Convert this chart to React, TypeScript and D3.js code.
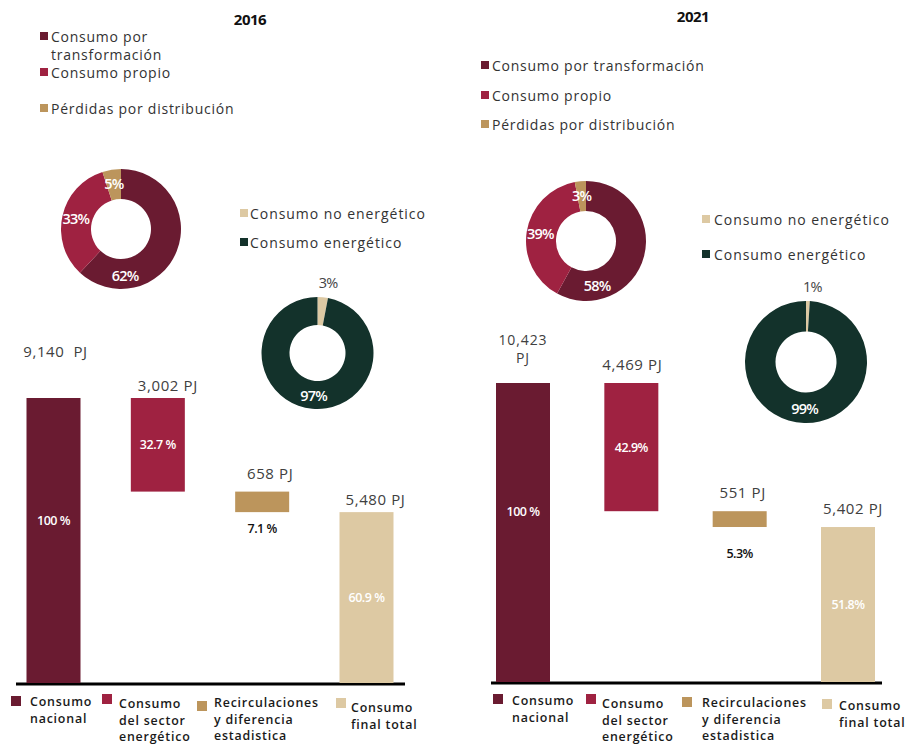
import React from "react";
import * as d3 from "d3";

const years = ["2016", "2021"];
const barCategories = [
  "Consumo nacional",
  "Consumo del sector energético",
  "Recirculaciones y diferencia estadistica",
  "Consumo final total",
];
const barLegendLines = [
  ["Consumo", "nacional"],
  ["Consumo", "del sector", "energético"],
  ["Recirculaciones", "y diferencia", "estadistica"],
  ["Consumo", "final total"],
];
const barValues2016 = [9140, 3002, 658, 5480];
const barValues2021 = [10423, 4469, 551, 5402];
const barValueLabels2016 = [["9,140  PJ"], ["3,002 PJ"], ["658 PJ"], ["5,480 PJ"]];
const barValueLabels2021 = [["10,423", "PJ"], ["4,469 PJ"], ["551 PJ"], ["5,402 PJ"]];
const barShareLabels2016 = ["100 %", "32.7 %", "7.1 %", "60.9 %"];
const barShareLabels2021 = ["100 %", "42.9%", "5.3%", "51.8%"];
const sectorCategories = ["Consumo por transformación", "Consumo propio", "Pérdidas por distribución"];
const sectorShares2016 = [62, 33, 5];
const sectorShares2021 = [58, 39, 3];
const useCategories = ["Consumo no energético", "Consumo energético"];
const useShares2016 = [3, 97];
const useShares2021 = [1, 99];

const BAR_COLORS = ["#6a1b31", "#9f2241", "#bc955c", "#ddc9a3"];
const SECTOR_COLORS = ["#6a1b31", "#9f2241", "#bc955c"];
const USE_COLORS = ["#ddc9a3", "#13322b"];
const FONT = "'Open Sans', 'DejaVu Sans', sans-serif";

type Layout = {
  title: [number, number];
  sectorLegend: { sqX: number; textX: number; rowsY: number[]; lines: string[][] };
  sectorDonut: { cx: number; cy: number; r: number; firstAngle: number };
  useLegend: { sqX: number; textX: number; rowsY: number[] };
  useDonut: { cx: number; cy: number; r: number };
  bars: { x0: number; x1: number; width: number; base: number; top: number; axis: [number, number]; valueDx: number[]; valueGap: number[]; shareBelow: number };
  barLegend: { sqX: number[]; sqY: number[]; textX: number[]; textY: number[] };
};

const layout2016: Layout = {
  title: [250, 19],
  sectorLegend: {
    sqX: 40,
    textX: 51,
    rowsY: [36, 72, 108],
    lines: [["Consumo por", "transformación"], [sectorCategories[1]], [sectorCategories[2]]],
  },
  sectorDonut: { cx: 121, cy: 229, r: 60, firstAngle: 175 },
  useLegend: { sqX: 240, textX: 250, rowsY: [213, 242] },
  useDonut: { cx: 317.5, cy: 353, r: 56 },
  bars: { x0: 53.5, x1: 366.5, width: 54, base: 683, top: 398, axis: [16, 405], valueDx: [2, 10, 8, 9], valueGap: [47, 13, 19, 13], shareBelow: 16 },
  barLegend: { sqX: [11, 102, 197, 336], sqY: [696, 694, 701, 698], textX: [30, 119, 214, 351], textY: [701, 703, 702, 707] },
};

const layout2021: Layout = {
  title: [693, 16],
  sectorLegend: {
    sqX: 481,
    textX: 492,
    rowsY: [65, 95, 124],
    lines: sectorCategories.map((c) => [c]),
  },
  sectorDonut: { cx: 586, cy: 241, r: 60, firstAngle: 166 },
  useLegend: { sqX: 702, textX: 714, rowsY: [219, 254] },
  useDonut: { cx: 806, cy: 362, r: 61 },
  bars: { x0: 523, x1: 848, width: 54, base: 682, top: 383, axis: [491, 882], valueDx: [0, 1, 3, 5], valueGap: [26, 19, 19, 19], shareBelow: 26 },
  barLegend: { sqX: [493, 586, 682, 822], sqY: [694, 694, 697, 699], textX: [512, 602, 702, 839], textY: [700, 703, 702, 705] },
};

function Panel(props: {
  year: string;
  values: number[];
  valueLabels: string[][];
  shareLabels: string[];
  sectorShares: number[];
  useShares: number[];
  L: Layout;
}) {
  const { year, values, valueLabels, shareLabels, sectorShares, useShares, L } = props;

  // waterfall ranges
  const ranges: [number, number][] = [];
  let running = values[0];
  values.forEach((v, i) => {
    if (i === 0) ranges.push([0, v]);
    else if (i === values.length - 1) ranges.push([0, v]);
    else {
      ranges.push([running - v, running]);
      running -= v;
    }
  });
  const y = d3.scaleLinear().domain([0, values[0]]).range([L.bars.base, L.bars.top]);
  const x = d3.scalePoint<string>().domain(barCategories).range([L.bars.x0, L.bars.x1]);

  const pie = d3.pie<number>().sort(null).value((d) => d).startAngle(0).endAngle(2 * Math.PI);
  const sArcs = pie(sectorShares);
  const sArc = d3.arc<d3.PieArcDatum<number>>().innerRadius(L.sectorDonut.r * 0.5).outerRadius(L.sectorDonut.r);
  const uArcs = pie(useShares);
  const uArc = d3.arc<d3.PieArcDatum<number>>().innerRadius(L.useDonut.r * 0.5).outerRadius(L.useDonut.r);

  const polar = (a: number, r: number): [number, number] => [Math.sin(a) * r, -Math.cos(a) * r];

  return (
    <g fontFamily={FONT}>
      <text x={L.title[0]} y={L.title[1]} textAnchor="middle" dominantBaseline="central" fontSize={15} fontWeight={700} fill="#111" letterSpacing={-0.5}>
        {year}
      </text>

      {/* sector legend */}
      {L.sectorLegend.lines.map((lines, i) => (
        <g key={"sl" + i}>
          <rect x={L.sectorLegend.sqX} y={L.sectorLegend.rowsY[i] - 4} width={8} height={8} fill={SECTOR_COLORS[i]} />
          <text x={L.sectorLegend.textX} y={L.sectorLegend.rowsY[i]} dominantBaseline="central" fontSize={14} fill="#333" letterSpacing={0.75}>
            {lines.map((ln, j) => (
              <tspan key={j} x={L.sectorLegend.textX} dy={j === 0 ? 0 : 18}>
                {ln}
              </tspan>
            ))}
          </text>
        </g>
      ))}

      {/* sector donut */}
      <g transform={`translate(${L.sectorDonut.cx},${L.sectorDonut.cy})`}>
        {sArcs.map((a, i) => (
          <path key={i} d={sArc(a) || ""} fill={SECTOR_COLORS[i]} />
        ))}
        {sArcs.map((a, i) => {
          const ang = i === 0 ? (L.sectorDonut.firstAngle * Math.PI) / 180 : (a.startAngle + a.endAngle) / 2;
          const [px, py] = polar(ang, L.sectorDonut.r * 0.77);
          return (
            <text key={"t" + i} x={px} y={py} textAnchor="middle" dominantBaseline="central" fontSize={14.5} fontWeight={600} fill="#fff" letterSpacing={-0.8}>
              {sectorShares[i]}%
            </text>
          );
        })}
      </g>

      {/* use legend */}
      {useCategories.map((c, i) => (
        <g key={"ul" + i}>
          <rect x={L.useLegend.sqX} y={L.useLegend.rowsY[i] - 4} width={8} height={8} fill={USE_COLORS[i]} />
          <text x={L.useLegend.textX} y={L.useLegend.rowsY[i]} dominantBaseline="central" fontSize={14} fill="#333" letterSpacing={0.95}>
            {c}
          </text>
        </g>
      ))}

      {/* use donut */}
      <g transform={`translate(${L.useDonut.cx},${L.useDonut.cy})`}>
        {uArcs.map((a, i) => (
          <path key={i} d={uArc(a) || ""} fill={USE_COLORS[i]} />
        ))}
        {uArcs.map((a, i) => {
          const mid = (a.startAngle + a.endAngle) / 2;
          const outside = i === 0;
          const [px, py] = polar(mid, outside ? L.useDonut.r + 15 : L.useDonut.r * 0.76);
          return (
            <text key={"t" + i} x={outside ? px + 4 : px} y={py} textAnchor="middle" dominantBaseline="central" fontSize={14.5} fontWeight={outside ? 400 : 600} fill={outside ? "#444" : "#fff"} letterSpacing={-0.8}>
              {useShares[i]}%
            </text>
          );
        })}
      </g>

      {/* axis line */}
      <line x1={L.bars.axis[0]} x2={L.bars.axis[1]} y1={L.bars.base + 1} y2={L.bars.base + 1} stroke="#000" strokeWidth={3} />

      {/* bars */}
      {barCategories.map((c, i) => {
        const cx = x(c) as number;
        const [lo, hi] = ranges[i];
        const yTop = y(hi);
        const yBot = y(lo);
        const lines = valueLabels[i];
        const lineH = 18.5;
        const last = yTop - L.bars.valueGap[i];
        const isSmall = i === 2;
        const shareY = isSmall ? yBot + L.bars.shareBelow : i === 0 ? yBot - (yBot - yTop) * 0.57 : (yTop + yBot) / 2;
        return (
          <g key={"b" + i}>
            <rect x={cx - L.bars.width / 2} y={yTop} width={L.bars.width} height={yBot - yTop} fill={BAR_COLORS[i]} />
            <text x={cx + L.bars.valueDx[i]} y={last - (lines.length - 1) * lineH} textAnchor="middle" dominantBaseline="central" fontSize={lines.length > 1 ? 14 : 15} fill="#404040" style={{ whiteSpace: "pre" }} letterSpacing={lines.length > 1 ? 0.9 : 0.6}>
              {lines.map((ln, j) => (
                <tspan key={j} x={cx + L.bars.valueDx[i]} dy={j === 0 ? 0 : lineH}>
                  {ln}
                </tspan>
              ))}
            </text>
            <text x={cx} y={shareY} textAnchor="middle" dominantBaseline="central" fontSize={12.5} fontWeight={600} fill={isSmall ? "#111" : "#fff"} letterSpacing={-0.5}>
              {shareLabels[i]}
            </text>
          </g>
        );
      })}

      {/* bar legend */}
      {barLegendLines.map((lines, i) => (
        <g key={"bl" + i}>
          <rect x={L.barLegend.sqX[i]} y={L.barLegend.sqY[i]} width={10} height={10} fill={BAR_COLORS[i]} />
          <text x={L.barLegend.textX[i]} y={L.barLegend.textY[i]} dominantBaseline="central" fontSize={12.4} fontWeight={600} fill="#1a1a1a" letterSpacing={0.8}>
            {lines.map((ln, j) => (
              <tspan key={j} x={L.barLegend.textX[i]} dy={j === 0 ? 0 : 16.5}>
                {ln}
              </tspan>
            ))}
          </text>
        </g>
      ))}
    </g>
  );
}

export default function App() {
  return (
    <svg width={906} height={744} style={{ position: "absolute", left: 0, top: 0, background: "#fff" }}>
      <rect width={906} height={744} fill="#fff" />
      <Panel
        year={years[0]}
        values={barValues2016}
        valueLabels={barValueLabels2016}
        shareLabels={barShareLabels2016}
        sectorShares={sectorShares2016}
        useShares={useShares2016}
        L={layout2016}
      />
      <Panel
        year={years[1]}
        values={barValues2021}
        valueLabels={barValueLabels2021}
        shareLabels={barShareLabels2021}
        sectorShares={sectorShares2021}
        useShares={useShares2021}
        L={layout2021}
      />
    </svg>
  );
}
